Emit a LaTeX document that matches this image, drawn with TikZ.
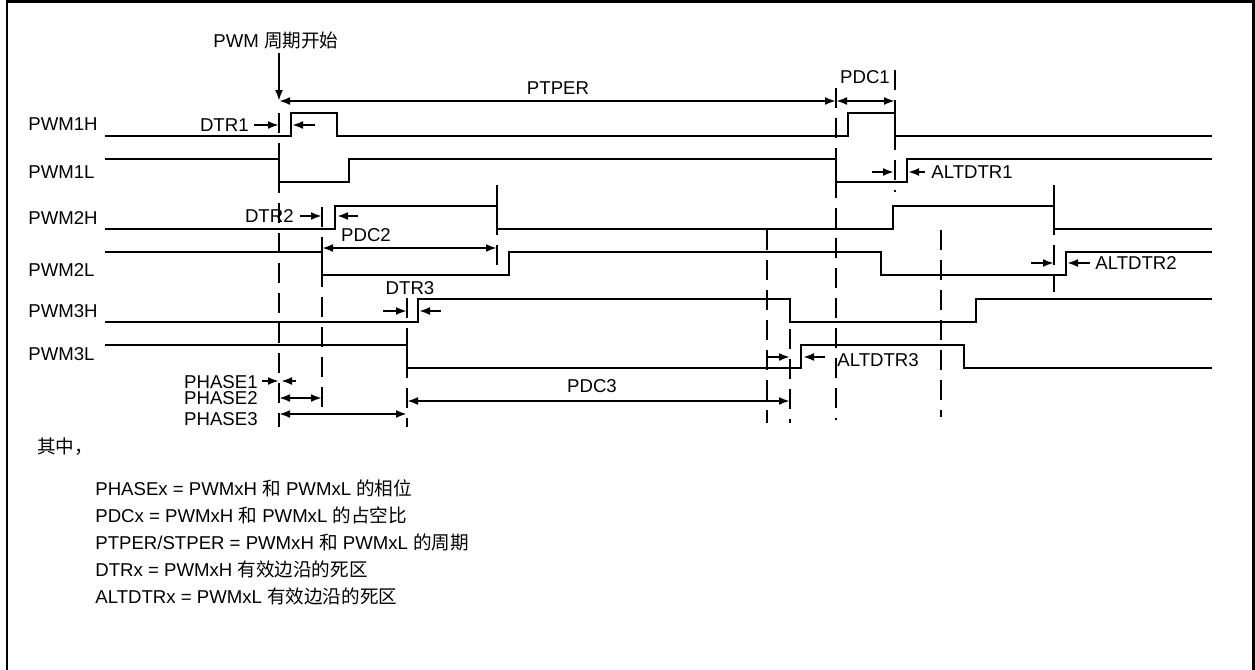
\documentclass[tikz,border=0pt]{standalone}
\usepackage{fontspec}
\setmainfont{Liberation Sans}
\newfontfamily\cjk{Noto Sans CJK SC}
\usetikzlibrary{arrows.meta}

\begin{document}
\begin{tikzpicture}[x=0.5pt, y=-0.5pt, >={Latex[length=5.5pt,width=4pt]},
  font=\fontsize{9.3}{11}\selectfont,
  wave/.style={line width=1.3pt},
  guide/.style={line width=1.2pt, dash pattern=on 10pt off 5pt},
  dim/.style={line width=1.2pt, <->},
  tick/.style={line width=1.2pt, ->},
  lbl/.style={inner sep=0pt}]

\useasboundingbox (0,0) rectangle (1255,670);
\draw[line width=1.4pt] (7,680) -- (7,1.5) -- (1253.5,1.5) -- (1253.5,680);

% signal names
\foreach \s/\y in {1H/124, 1L/172, 2H/218, 2L/270, 3H/311, 3L/354}
  \node[lbl, anchor=west] (pwm\s) at (28,\y) {PWM\s};

% waveforms
\draw[wave] (105,136) -| (291,113) -| (337,136) -| (848,113) -| (895,136) -- (1212,136);
\draw[wave] (105,159) -| (279,182) -| (349,159) -| (836,182) -| (907,159) -- (1212,159);
\draw[wave] (105,229) -| (335,206) -| (497,229) -| (893,206) -| (1054,229) -- (1212,229);
\draw[wave] (105,252) -| (322,275) -| (509,252) -| (881,275) -| (1066,252) -- (1212,252);
\draw[wave] (105,322) -| (418,299) -| (790,322) -| (976,299) -- (1212,299);
\draw[wave] (105,345) -| (407,368) -| (801,345) -| (964,368) -- (1212,368);

% dashed guides: x / top / bottom
\foreach \x/\a/\b in {279/113/427, 322/207/410, 407/298/427, 497/185/270, 767/230/423,
                      790/299/423, 836/88/420, 895/70/192, 941/230/417, 1054/185/292}
  \draw[guide] (\x,\a) -- (\x,\b);

% period start
\node[lbl, anchor=base] (start) at (276,47) {PWM {\cjk 周期开始}};
\coordinate (t0) at (279,101);
\draw[tick] (start.south -| t0) ++(0,4) -- (t0);

% spans
\draw[dim] (t0) -- (836,101);
\draw[dim] (836,101) -- (895,101);
\draw[dim] (322,248) -- (497,248);
\draw[dim] (407,401) -- (790,401);
\draw[dim] (279,398) -- (322,398);
\draw[dim] (279,414) -- (407,414);

% dead-time markers, both arrows point at the edges
\foreach \a/\b/\c/\d/\y in {254/279/315/292/125, 300/322/358/337/216, 383/407/441/419/311,
                            872/894/925/908/172, 1031/1054/1090/1067/263, 767/790/825/803/357,
                            262/279/296/281/381} {
  \draw[tick] (\a,\y) -- (\b,\y);
  \draw[tick] (\c,\y) -- (\d,\y);
}

% labels
\node[lbl] (ptper) at (558,88) {PTPER};
\node[lbl] (pdc1) at (865,77) {PDC1};
\node[lbl] (pdc2) at (366,235) {PDC2};
\node[lbl] (pdc3) at (592,386) {PDC3};
\node[lbl, anchor=east] (dtr1) at (249,125) {DTR1};
\node[lbl, anchor=east] (dtr2) at (294,216) {DTR2};
\node[lbl] (dtr3) at (410,288) {DTR3};
\node[lbl, anchor=west] (altdtr1) at (931,172) {ALTDTR1};
\node[lbl, anchor=west] (altdtr2) at (1095,263) {ALTDTR2};
\node[lbl, anchor=west] (altdtr3) at (837,360) {ALTDTR3};
\node[lbl, anchor=east] (phase1) at (258,382) {PHASE1};
\node[lbl, anchor=east] (phase2) at (258,398) {PHASE2};
\node[lbl, anchor=east] (phase3) at (258,419) {PHASE3};

% legend
\node[lbl, anchor=base west] (where) at (37,453) {\cjk 其中，};
\foreach \t [count=\i] in {PHASEx = PWMxH {\cjk 和} PWMxL {\cjk 的相位},
                          PDCx = PWMxH {\cjk 和} PWMxL {\cjk 的占空比},
                          PTPER/STPER = PWMxH {\cjk 和} PWMxL {\cjk 的周期},
                          DTRx = PWMxH {\cjk 有效边沿的死区},
                          ALTDTRx = PWMxL {\cjk 有效边沿的死区}}
  \node[lbl, anchor=base west] (def\i) at (95,468+27*\i) {\t};

\end{tikzpicture}
\end{document}
